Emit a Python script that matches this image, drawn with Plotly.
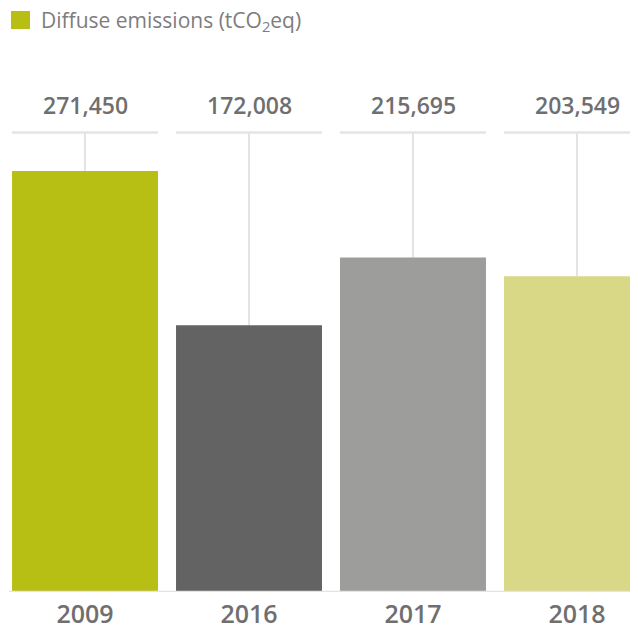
import plotly.graph_objects as go

years = ["2009", "2016", "2017", "2018"]
values = [271450, 172008, 215695, 203549]
value_labels = ["271,450", "172,008", "215,695", "203,549"]
bar_colors = ["#b8bf14", "#636363", "#9d9d9c", "#d8d886"]
legend_label = "Diffuse emissions (tCO<sub>2</sub>eq)"

# page body has an 8px margin; figure sized to fill the rest of the window
OFF = 8
W, H = 638 - OFF, 625 - OFF
ML, MB = 9 - OFF, 33
plot_h = H - MB
plot_w = W - ML
pitch = 164.0
first_center_px = 85 - OFF
r0 = -(first_center_px - ML) / pitch
r1 = r0 + plot_w / pitch

top_px = 171 - OFF
ymax = max(values) * plot_h / (plot_h - top_px)
guide_y = ymax * (plot_h - (132.5 - OFF)) / plot_h

font_family = "Open Sans"
txt_color = "#6f6f6f"
line_color = "#e4e4e4"
half = 0.445

def px_x(p):
    return (p - OFF - ML) / plot_w

def px_y(p):
    return (plot_h - (p - OFF)) / plot_h

fig = go.Figure()
fig.add_trace(go.Bar(
    x=years, y=values, marker=dict(color=bar_colors, line=dict(width=0)),
    showlegend=False, hoverinfo="skip",
))

shapes = []
annotations = []
for i, (yr, v, lab) in enumerate(zip(years, values, value_labels)):
    shapes.append(dict(type="line", xref="x", yref="y", x0=i - half, x1=i + half,
                       y0=guide_y, y1=guide_y, line=dict(color=line_color, width=2.3), layer="below"))
    shapes.append(dict(type="line", xref="x", yref="y", x0=i, x1=i,
                       y0=v, y1=guide_y, line=dict(color=line_color, width=2), layer="below"))
    annotations.append(dict(x=i, xref="x", y=px_y(105), yref="paper",
                            text=lab, showarrow=False, xanchor="center", yanchor="middle",
                            font=dict(family=font_family, size=23, color=txt_color, weight=600)))

shapes.append(dict(type="line", xref="paper", yref="y", x0=0, x1=1, y0=0, y1=0,
                   line=dict(color=line_color, width=2.5), layer="above"))

shapes.append(dict(type="rect", xref="paper", yref="paper",
                   x0=px_x(11), x1=px_x(30), y0=px_y(29), y1=px_y(11),
                   fillcolor=bar_colors[0], line=dict(width=0)))
annotations.append(dict(x=px_x(39), xref="paper", y=px_y(21), yref="paper",
                        text=legend_label, showarrow=False, xanchor="left", yanchor="middle",
                        font=dict(family=font_family, size=21, color="#7d7d7d")))

fig.update_layout(
    width=W, height=H,
    margin=dict(l=ML, r=0, t=0, b=MB, pad=0, autoexpand=False),
    paper_bgcolor="white", plot_bgcolor="white",
    bargap=0.11,
    shapes=shapes, annotations=annotations,
    xaxis=dict(range=[r0, r1], showgrid=False, zeroline=False, showline=False,
               ticks="", tickfont=dict(family=font_family, size=25, color=txt_color, weight=600),
               ticklabelstandoff=5, automargin=False, fixedrange=True),
    yaxis=dict(range=[0, ymax], visible=False, showgrid=False, zeroline=False,
               automargin=False, fixedrange=True),
    showlegend=False,
)

fig.write_html("out.html", config=dict(displayModeBar=False))
